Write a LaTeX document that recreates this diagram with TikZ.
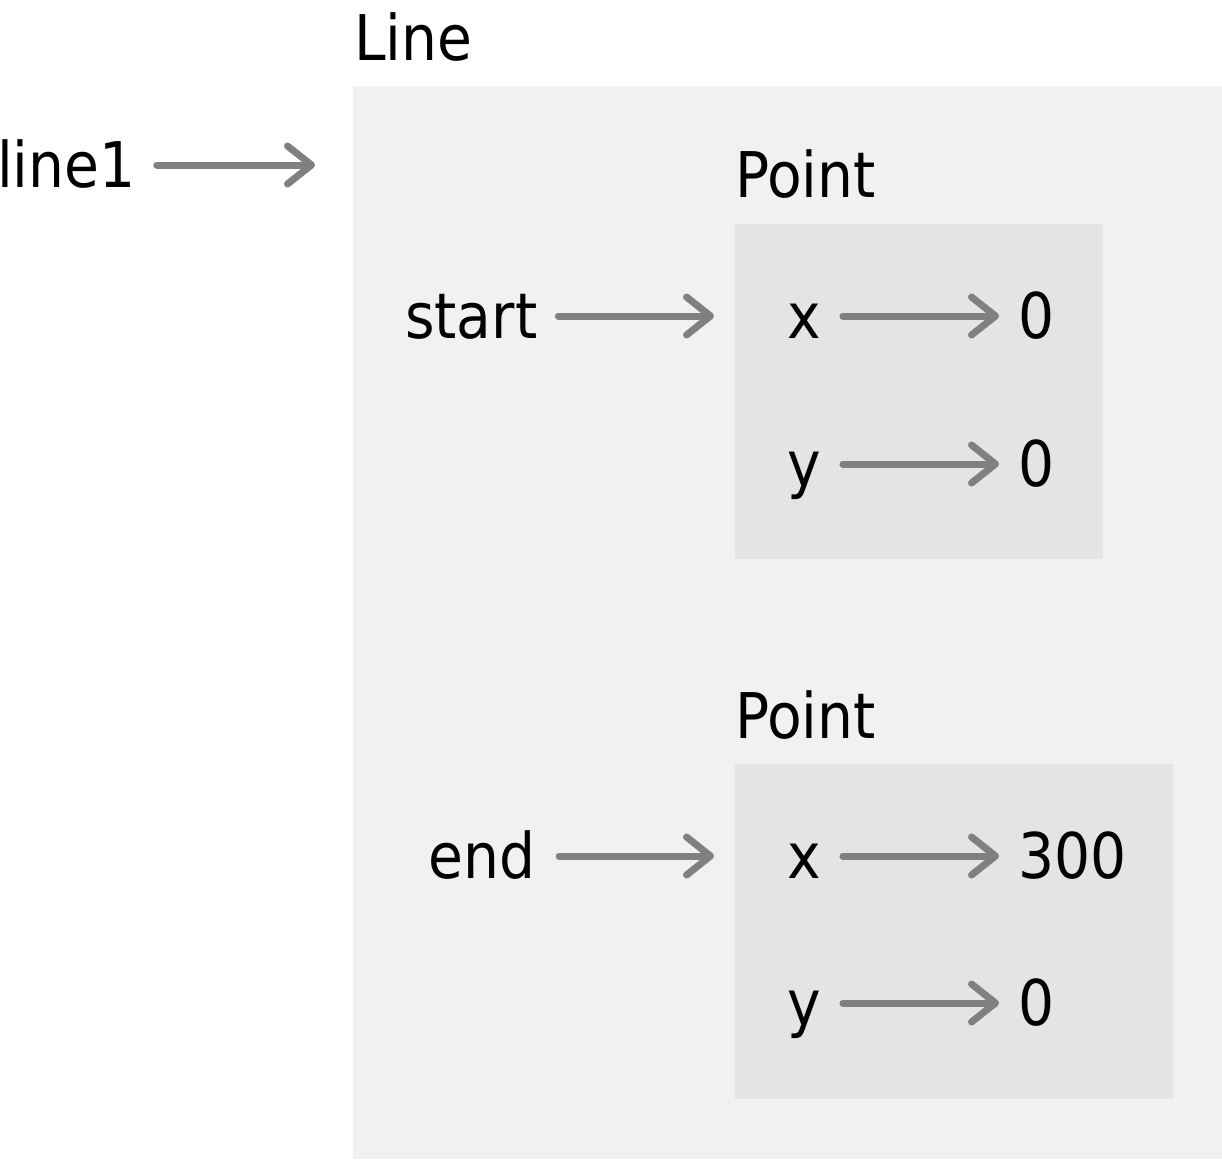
\documentclass[tikz,border=0pt]{standalone}
\usepackage{fontspec}
\setmainfont{DejaVu Sans Condensed}
\usetikzlibrary{arrows.meta,calc}
\definecolor{outerfill}{HTML}{F1F1F1}
\definecolor{innerfill}{HTML}{E4E4E4}
\definecolor{ptrgray}{HTML}{808080}
\begin{document}
\begin{tikzpicture}[x=1pt,y=-1pt,
  lbl/.style={inner sep=0pt, anchor=base west, font=\fontsize{63}{75}\selectfont},
  objbox/.style={draw=none, inner sep=0pt, anchor=north west},
  ptr/.style={draw=ptrgray, line width=7pt, line cap=round,
    -{Straight Barb[length=24pt,width=38pt,round]}},
]
\useasboundingbox (0,0) rectangle (1222,1159);

% object frames
\node[objbox, fill=outerfill, minimum width=869pt, minimum height=1073pt] (lineobj) at (353,86) {};
\node[objbox, fill=innerfill, minimum width=368pt, minimum height=335pt] (box1) at (735,224) {};
\node[objbox, fill=innerfill, minimum width=438pt, minimum height=335pt] (box2) at (735,764) {};

% type labels
\node[lbl] (linetype) at (354,60) {Line};
\node[lbl] (pt1type) at (735,197) {Point};
\node[lbl] (pt2type) at (735,738) {Point};

% variable and attribute names
\node[lbl] (line1) at (-3,187) {line1};
\node[lbl] (start) at (405,338) {start};
\node[lbl] (end) at (428,878) {end};
\node[lbl] (x1) at (787,338) {x};
\node[lbl] (y1) at (787,486) {y};
\node[lbl] (x2) at (787,878) {x};
\node[lbl] (y2) at (787,1025) {y};

% values
\node[lbl] (vx1) at (1018,338) {0};
\node[lbl] (vy1) at (1018,486) {0};
\node[lbl] (vx2) at (1018,878) {300};
\node[lbl] (vy2) at (1018,1025) {0};

% references
\coordinate (l0) at ([xshift=21pt,yshift=22pt]line1.base east);
\draw[ptr] (l0) -- ($(l0 -| lineobj.west)+(-38,0)$);
\coordinate (s0) at ([xshift=21pt,yshift=22pt]start.base east);
\draw[ptr] (s0) -- ($(s0 -| box1.west)+(-21,0)$);
\coordinate (e0) at ([xshift=24pt,yshift=22pt]end.base east);
\draw[ptr] (e0) -- ($(e0 -| box2.west)+(-21,0)$);

\draw[ptr] ([xshift=22pt,yshift=22pt]x1.base east) -- ([xshift=-19pt,yshift=22pt]vx1.base west);
\draw[ptr] ([xshift=22pt,yshift=22pt]y1.base east) -- ([xshift=-19pt,yshift=22pt]vy1.base west);
\draw[ptr] ([xshift=22pt,yshift=22pt]x2.base east) -- ([xshift=-19pt,yshift=22pt]vx2.base west);
\draw[ptr] ([xshift=22pt,yshift=22pt]y2.base east) -- ([xshift=-19pt,yshift=22pt]vy2.base west);
\end{tikzpicture}
\end{document}
